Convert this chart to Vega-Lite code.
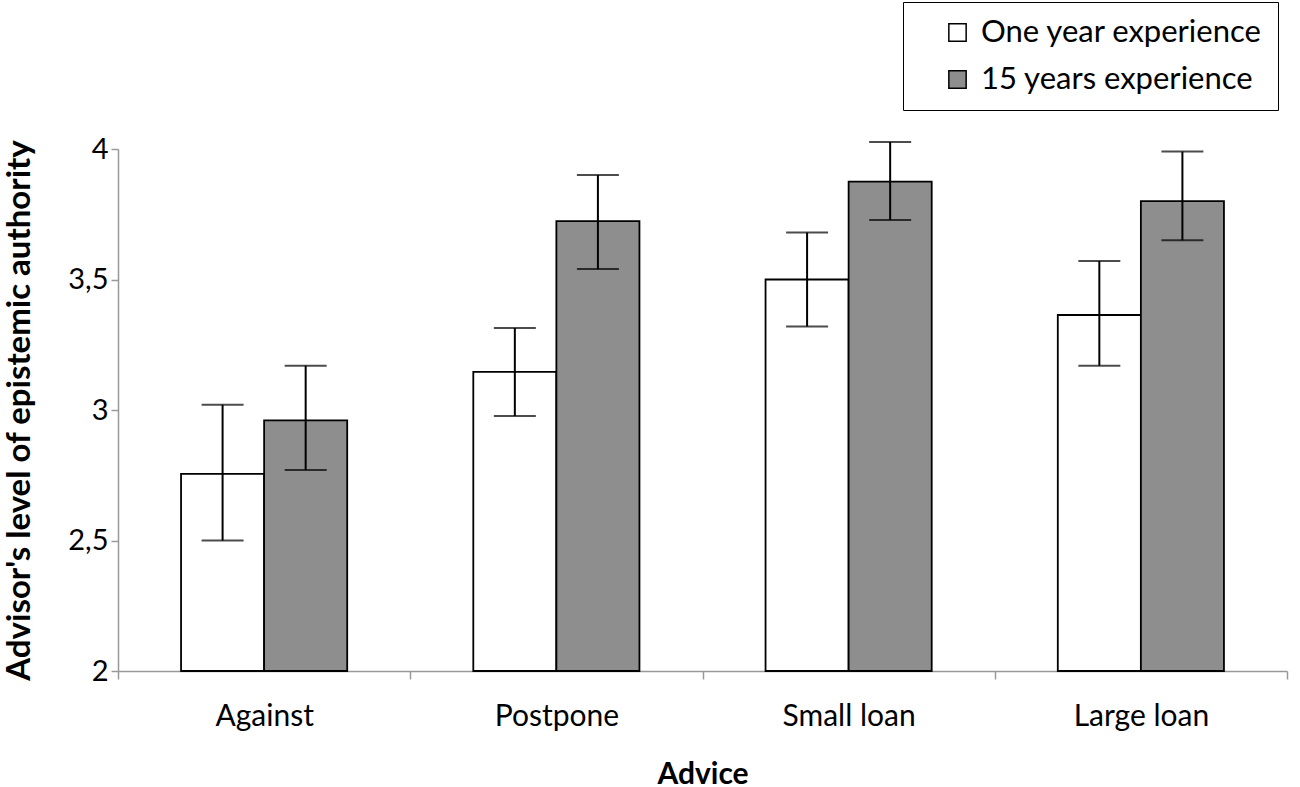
{
  "$schema": "https://vega.github.io/schema/vega-lite/v6.json",
  "autosize": {"type": "none"},
  "width": 1169,
  "height": 522,
  "padding": {"left": 118, "top": 149, "right": 13, "bottom": 116},
  "background": "white",
  "config": {
    "view": {"stroke": null},
    "font": "Lato",
    "axis": {"labelFont": "Lato", "titleFont": "Lato"}
  },
  "data": {
    "values": [
      {"advice": "Against", "group": "One year experience", "mean": 2.755, "lo": 2.50, "hi": 3.02},
      {"advice": "Against", "group": "15 years experience", "mean": 2.96, "lo": 2.77, "hi": 3.17},
      {"advice": "Postpone", "group": "One year experience", "mean": 3.146, "lo": 2.977, "hi": 3.314},
      {"advice": "Postpone", "group": "15 years experience", "mean": 3.724, "lo": 3.54, "hi": 3.90},
      {"advice": "Small loan", "group": "One year experience", "mean": 3.50, "lo": 3.32, "hi": 3.68},
      {"advice": "Small loan", "group": "15 years experience", "mean": 3.875, "lo": 3.728, "hi": 4.027},
      {"advice": "Large loan", "group": "One year experience", "mean": 3.364, "lo": 3.17, "hi": 3.571},
      {"advice": "Large loan", "group": "15 years experience", "mean": 3.80, "lo": 3.65, "hi": 3.99}
    ]
  },
  "encoding": {
    "x": {
      "field": "advice", "type": "nominal", "sort": ["Against", "Postpone", "Small loan", "Large loan"],
      "scale": {"paddingInner": 0, "paddingOuter": 0},
      "axis": {
        "title": "Advice", "titleFontSize": 30, "titleFontWeight": "bold", "titlePadding": 28, "titleColor": "black",
        "labelAngle": 0, "labelFontSize": 30, "labelColor": "black", "labelPadding": 22,
        "domainColor": "#999999", "domainWidth": 1.5, "tickColor": "#999999", "tickWidth": 1.5, "tickSize": 8,
        "tickBand": "extent"
      }
    },
    "xOffset": {"field": "group", "type": "nominal", "sort": ["One year experience", "15 years experience"], "scale": {"paddingInner": 0, "paddingOuter": 0.759}}
  },
  "layer": [
    {
      "mark": {"type": "bar", "stroke": "black", "strokeWidth": 1.8},
      "encoding": {
        "y": {
          "field": "mean", "type": "quantitative", "scale": {"domain": [2, 4], "nice": false, "zero": false},
          "axis": {
            "title": "Advisor's level of epistemic authority", "titleFontSize": 33, "titleFontWeight": "bold", "titleColor": "black", "titlePadding": 31,
            "values": [2, 2.5, 3, 3.5, 4], "labelExpr": "replace(format(datum.value, '~g'), '.', ',')",
            "labelFontSize": 29, "labelColor": "black", "labelPadding": 3,
            "grid": false, "domainColor": "#999999", "domainWidth": 1.5, "tickColor": "#999999", "tickWidth": 1.5, "tickSize": 7
          }
        },
        "y2": {"datum": 2},
        "fill": {
          "field": "group", "type": "nominal", "sort": ["One year experience", "15 years experience"],
          "scale": {"domain": ["One year experience", "15 years experience"], "range": ["#ffffff", "#8e8e8e"]},
          "legend": {
            "title": null, "orient": "none", "legendX": 785, "legendY": -147,
            "symbolType": "square", "symbolSize": 300, "symbolStrokeColor": "black", "symbolStrokeWidth": 1.5,
            "symbolOffset": 24, "labelOffset": 8,
            "labelFontSize": 31, "labelColor": "black", "labelFont": "Lato", "labelLimit": 400,
            "rowPadding": 15, "padding": 15,
            "strokeColor": "black", "fillColor": "white"
          }
        }
      }
    },
    {
      "mark": {"type": "rule", "stroke": "black", "strokeWidth": 2},
      "encoding": {
        "y": {"field": "lo", "type": "quantitative"},
        "y2": {"field": "hi"}
      }
    },
    {
      "mark": {"type": "tick", "color": "black", "thickness": 2, "size": 42, "orient": "horizontal"},
      "encoding": {"y": {"field": "lo", "type": "quantitative"}}
    },
    {
      "mark": {"type": "tick", "color": "black", "thickness": 2, "size": 42, "orient": "horizontal"},
      "encoding": {"y": {"field": "hi", "type": "quantitative"}}
    }
  ]
}
